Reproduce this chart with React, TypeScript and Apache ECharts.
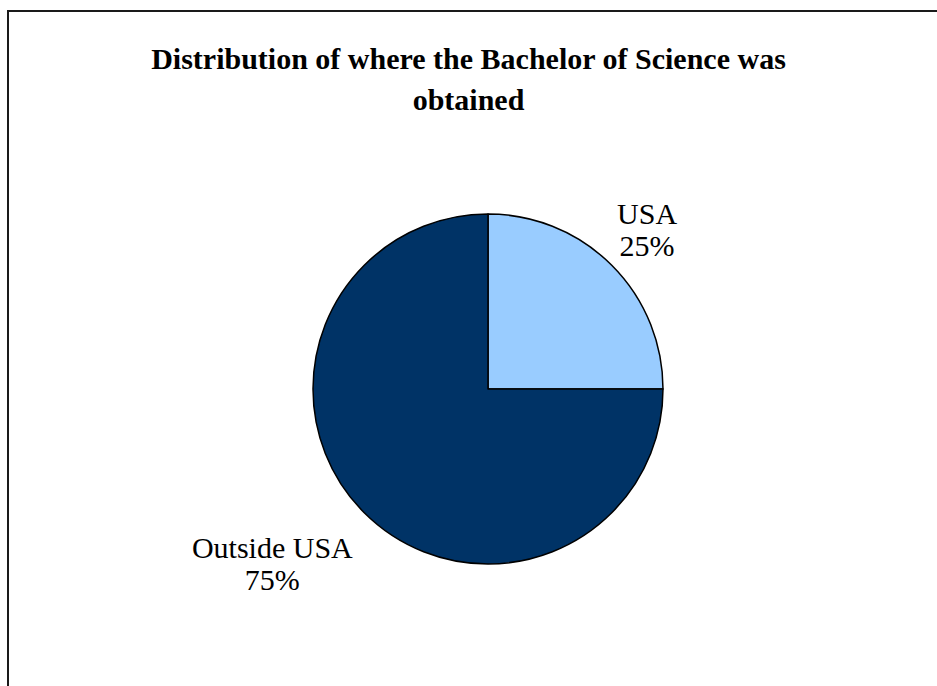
import React, { useEffect, useRef } from "react";
import * as echarts from "echarts";

const titleText = "Distribution of where the Bachelor of Science was\nobtained";
const categories = ["USA", "Outside USA"];
const shares = [25, 75];
const sliceColors = ["#99CCFF", "#003366"];
// label line geometry per slice (used only to place the labels like the original)
const labelLengths = [50, 72];
const labelLengths2 = [0, 41];

export default function App() {
  const ref = useRef<HTMLDivElement>(null);
  useEffect(() => {
    if (!ref.current) return;
    const chart = echarts.init(ref.current, null, { renderer: "svg" });
    const data = categories.map((name, i) => ({
      name,
      value: shares[i],
      itemStyle: { color: sliceColors[i] },
      labelLine: { show: false, length: labelLengths[i], length2: labelLengths2[i] },
    }));
    chart.setOption({
      animation: false,
      backgroundColor: "#ffffff",
      title: {
        text: titleText,
        left: "center",
        top: 38,
        padding: 0,
        textStyle: {
          fontFamily: "Liberation Serif",
          fontWeight: "bold",
          fontSize: 30,
          lineHeight: 41,
          color: "#000",
        },
      },
      graphic: [
        {
          type: "rect",
          shape: { x: 8, y: 11, width: 1200, height: 1200 },
          style: { fill: "none", stroke: "#1a1a1a", lineWidth: 2 },
          silent: true,
          z: 100,
        },
      ],
      series: [
        {
          type: "pie",
          center: [488, 389],
          radius: 175,
          startAngle: 90,
          clockwise: true,
          avoidLabelOverlap: false,
          data,
          itemStyle: { borderColor: "#000", borderWidth: 1.5 },
          label: {
            show: true,
            position: "outside",
            formatter: "{b}\n{c}%",
            fontFamily: "Liberation Serif",
            fontSize: 30,
            lineHeight: 32,
            color: "#000",
            distanceToLabelLine: 0,
            alignTo: "none",
          },
          labelLayout: () => ({ align: "center", verticalAlign: "middle" }),
          emphasis: { disabled: true },
        },
      ],
    });
    return () => chart.dispose();
  }, []);
  return (
    <div
      ref={ref}
      style={{ position: "absolute", left: 0, top: 0, width: 937, height: 686 }}
    />
  );
}
